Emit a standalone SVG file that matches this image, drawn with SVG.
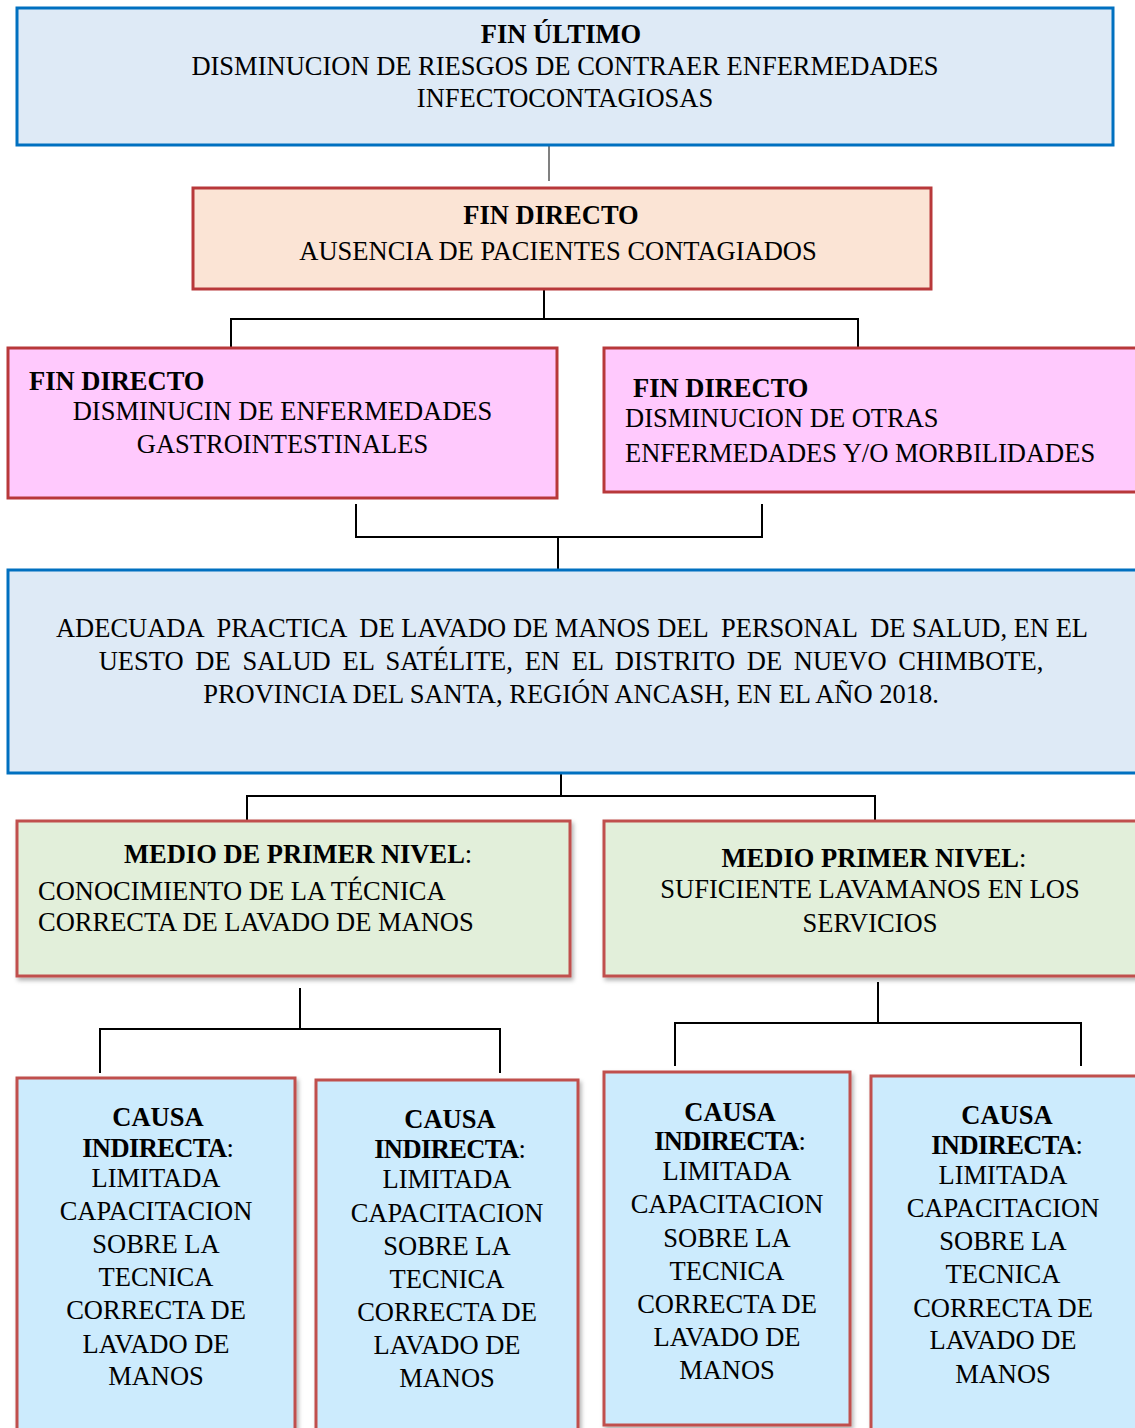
<svg xmlns="http://www.w3.org/2000/svg" width="1135" height="1428" viewBox="0 0 1135 1428">
<defs>
<filter id="sh" x="-5%" y="-5%" width="115%" height="115%">
<feDropShadow dx="2" dy="3" stdDeviation="2" flood-color="#000" flood-opacity="0.3"/>
</filter>
<style>
text{font-family:"Liberation Serif","Times New Roman",serif;font-size:26.5px;fill:#000;}
.b{font-weight:bold;}
.m{text-anchor:middle;}
.blue{fill:#DEEAF6;stroke:#0070C0;stroke-width:3;}
.peach{fill:#FBE4D5;stroke:#B8383A;stroke-width:3;}
.pink{fill:#FFC9FD;stroke:#B8383A;stroke-width:3;}
.green{fill:#E2EFDA;stroke:#C0504D;stroke-width:3;filter:url(#sh);}
.cyan{fill:#CCEBFD;stroke:#C0504D;stroke-width:3;filter:url(#sh);}
.c{fill:none;stroke:#000;stroke-width:2;}
.ind{letter-spacing:-0.6px;}
</style>
</defs>
<rect width="1135" height="1428" fill="#fff"/>
<g id="connectors">
<path d="M549,146 V181" fill="none" stroke="#808080" stroke-width="2"/>
<path class="c" d="M544,290 V319 M231,348 V319 H858 V348"/>
<path class="c" d="M356,504 V537 H762 V504 M558,537 V570"/>
<path class="c" d="M561,774 V796 M247,820 V796 H875 V820"/>
<path class="c" d="M300,988 V1029 M100,1073 V1029 H500 V1073"/>
<path class="c" d="M878,982 V1023 M675,1066 V1023 H1081 V1066"/>
</g>
<g id="fin-ultimo">
<rect class="blue" x="17" y="8" width="1096" height="137"/>
<text class="m b" x="561" y="43">FIN ÚLTIMO</text>
<text class="m" x="565" y="75">DISMINUCION DE RIESGOS DE CONTRAER ENFERMEDADES</text>
<text class="m" x="565" y="107">INFECTOCONTAGIOSAS</text>
</g>
<g id="fin-directo">
<rect class="peach" x="193" y="188" width="738" height="101"/>
<text class="m b" x="551" y="224">FIN DIRECTO</text>
<text class="m" x="558" y="260">AUSENCIA DE PACIENTES CONTAGIADOS</text>
</g>
<g id="fin-directo-gastro">
<rect class="pink" x="8" y="348" width="549" height="150"/>
<text class="b" x="29" y="390">FIN DIRECTO</text>
<text class="m" x="282.5" y="420">DISMINUCIN DE ENFERMEDADES</text>
<text class="m" x="282.5" y="453">GASTROINTESTINALES</text>
</g>
<g id="fin-directo-otras">
<rect class="pink" x="604" y="348" width="545" height="144"/>
<text class="b" x="633" y="397">FIN DIRECTO</text>
<text x="625" y="427">DISMINUCION DE OTRAS</text>
<text x="625" y="462">ENFERMEDADES Y/O MORBILIDADES</text>
</g>
<g id="problema-central">
<rect class="blue" x="8" y="570" width="1140" height="203"/>
<text class="m" x="572" y="637" xml:space="preserve">ADECUADA  PRACTICA  DE LAVADO DE MANOS DEL  PERSONAL  DE SALUD, EN EL</text>
<text class="m" x="571" y="670" style="word-spacing:5.1px">UESTO DE SALUD EL SATÉLITE, EN EL DISTRITO DE NUEVO CHIMBOTE,</text>
<text class="m" x="571" y="703">PROVINCIA DEL SANTA, REGIÓN ANCASH, EN EL AÑO 2018.</text>
</g>
<g id="medio-1">
<rect class="green" x="17" y="821" width="553" height="155"/>
<text x="124" y="863"><tspan class="b">MEDIO DE PRIMER NIVEL</tspan>:</text>
<text x="38" y="900">CONOCIMIENTO DE LA TÉCNICA</text>
<text x="38" y="931">CORRECTA DE LAVADO DE MANOS</text>
</g>
<g id="medio-2">
<rect class="green" x="604" y="821" width="545" height="155"/>
<text class="m" x="874" y="867"><tspan class="b">MEDIO PRIMER NIVEL</tspan>:</text>
<text class="m" x="870" y="898">SUFICIENTE LAVAMANOS EN LOS</text>
<text class="m" x="870" y="932">SERVICIOS</text>
</g>
<g id="causa-1">
<rect class="cyan" x="17" y="1078" width="278" height="360"/>
<text class="m b" x="158" y="1126">CAUSA</text>
<text class="m" x="158" y="1157"><tspan class="b ind">INDIRECTA</tspan>:</text>
<text class="m" x="156" y="1187">LIMITADA</text>
<text class="m" x="156" y="1220">CAPACITACION</text>
<text class="m" x="156" y="1253">SOBRE LA</text>
<text class="m" x="156" y="1286">TECNICA</text>
<text class="m" x="156" y="1319">CORRECTA DE</text>
<text class="m" x="156" y="1353">LAVADO DE</text>
<text class="m" x="156" y="1385">MANOS</text>
</g>
<g id="causa-2">
<rect class="cyan" x="316" y="1080" width="262" height="360"/>
<text class="m b" x="450" y="1128">CAUSA</text>
<text class="m" x="450" y="1158"><tspan class="b ind">INDIRECTA</tspan>:</text>
<text class="m" x="447" y="1188">LIMITADA</text>
<text class="m" x="447" y="1222">CAPACITACION</text>
<text class="m" x="447" y="1255">SOBRE LA</text>
<text class="m" x="447" y="1288">TECNICA</text>
<text class="m" x="447" y="1321">CORRECTA DE</text>
<text class="m" x="447" y="1354">LAVADO DE</text>
<text class="m" x="447" y="1387">MANOS</text>
</g>
<g id="causa-3">
<rect class="cyan" x="604" y="1072" width="246" height="353"/>
<text class="m b" x="730" y="1121">CAUSA</text>
<text class="m" x="730" y="1150"><tspan class="b ind">INDIRECTA</tspan>:</text>
<text class="m" x="727" y="1180">LIMITADA</text>
<text class="m" x="727" y="1213">CAPACITACION</text>
<text class="m" x="727" y="1247">SOBRE LA</text>
<text class="m" x="727" y="1280">TECNICA</text>
<text class="m" x="727" y="1313">CORRECTA DE</text>
<text class="m" x="727" y="1346">LAVADO DE</text>
<text class="m" x="727" y="1379">MANOS</text>
</g>
<g id="causa-4">
<rect class="cyan" x="871" y="1076" width="280" height="362"/>
<text class="m b" x="1007" y="1124">CAUSA</text>
<text class="m" x="1007" y="1154"><tspan class="b ind">INDIRECTA</tspan>:</text>
<text class="m" x="1003" y="1184">LIMITADA</text>
<text class="m" x="1003" y="1217">CAPACITACION</text>
<text class="m" x="1003" y="1250">SOBRE LA</text>
<text class="m" x="1003" y="1283">TECNICA</text>
<text class="m" x="1003" y="1317">CORRECTA DE</text>
<text class="m" x="1003" y="1349">LAVADO DE</text>
<text class="m" x="1003" y="1383">MANOS</text>
</g>
</svg>
